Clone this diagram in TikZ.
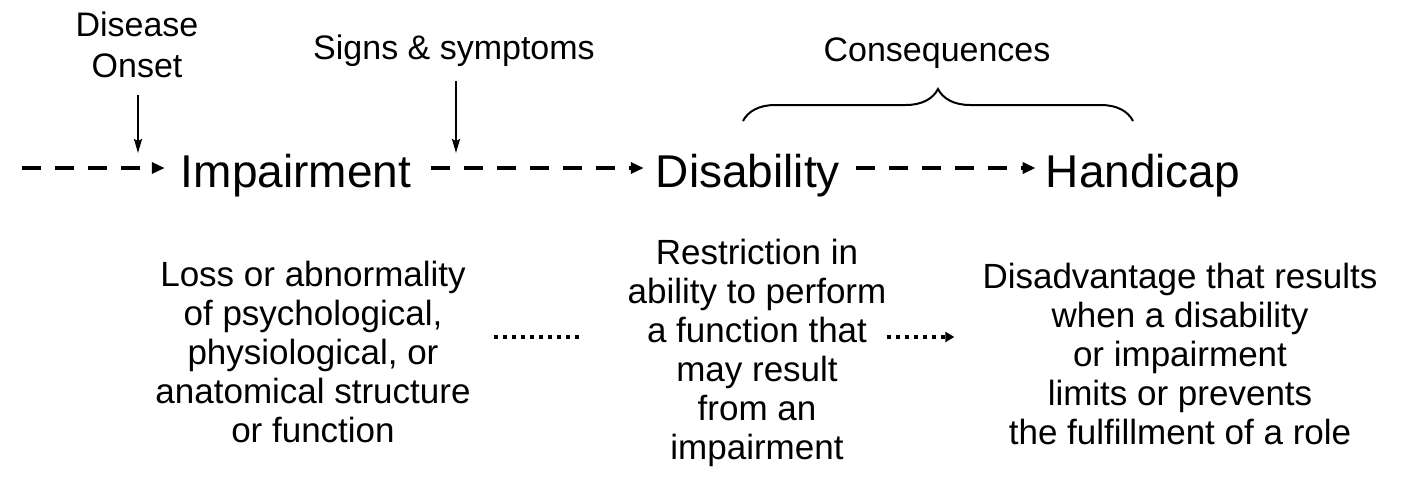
\documentclass[tikz,border=0pt]{standalone}
\usepackage{fontspec}
\setmainfont{Liberation Sans}
\usetikzlibrary{arrows.meta,decorations.pathreplacing}
\begin{document}
\begin{tikzpicture}[x=1pt,y=-1pt,
  mainword/.style={font=\fontsize{46}{50}\selectfont, inner sep=0pt, anchor=base},
  desc/.style={font=\fontsize{35}{39}\selectfont, align=center, inner sep=0pt, anchor=south},
  toplabel/.style={font=\fontsize{34}{41}\selectfont, align=center, inner sep=0pt},
  dasharrow/.style={line width=4pt, dash pattern=on 19pt off 14pt, -{Triangle[length=13pt,width=11pt]}},
  downarrow/.style={line width=2pt, -{Stealth[length=14pt,width=8pt,inset=2pt]}},
  dotline/.style={line width=4pt, dash pattern=on 4pt off 5pt},
]
\useasboundingbox (0,0) rectangle (1403,491);
\coordinate (dashrow) at (0,168);
\coordinate (dotrow) at (0,337);
\node[mainword] (imp) at (296,187) {Impairment};
\node[mainword] (dis) at (748,187) {Disability};
\node[mainword] (han) at (1143,187) {Handicap};
\coordinate (s1) at (22,168);
\draw[dasharrow, shorten >=16pt] (s1) -- (imp.west |- dashrow);
\draw[dasharrow, shorten <=20pt, shorten >=12pt] (imp.east |- dashrow) -- (dis.west |- dashrow);
\draw[dasharrow, shorten <=16pt, shorten >=10pt] (dis.east |- dashrow) -- (han.west |- dashrow);

\node[toplabel, anchor=south] (onset) at (137,78) {Disease\\Onset};
\node[toplabel, anchor=base] (signs) at (454,59) {Signs \& symptoms};
\node[toplabel, anchor=base] (cons) at (937,61) {Consequences};
\coordinate (o2) at (138,153);
\coordinate (g2) at (456,153);
\draw[downarrow] ([yshift=-17pt]onset.south -| o2) -- (o2);
\draw[downarrow] ([yshift=-22pt]signs.base -| g2) -- (g2);

\coordinate (b1) at (743,121);
\coordinate (b2) at (1133,121);
\draw[line width=2pt, decorate, decoration={brace, amplitude=32pt}] (b1) -- (b2);

\node[desc] (ld) at (313,443) {Loss or abnormality\\of psychological,\\physiological, or\\anatomical structure\\or function};
\node[desc] (md) at (757,467) {Restriction in\\ability to perform\\a function that\\may result\\from an\\impairment};
\node[desc] (rd) at (1180,445) {Disadvantage that results\\when a disability\\or impairment\\limits or prevents\\the fulfillment of a role};
\draw[dotline, shorten <=23pt, shorten >=48pt] (ld.east |- dotrow) -- (md.west |- dotrow);
\draw[dotline, -{Triangle[length=9pt,width=10pt]}, shorten <=0pt, shorten >=28pt] (md.east |- dotrow) -- (rd.west |- dotrow);
\end{tikzpicture}
\end{document}
